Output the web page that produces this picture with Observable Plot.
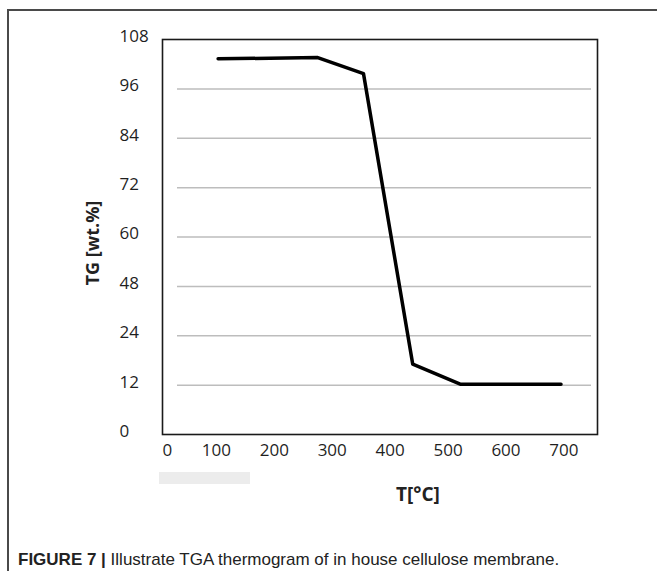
<!DOCTYPE html>
<html><head><meta charset="utf-8">
<script src="https://cdn.jsdelivr.net/npm/d3@7"></script>
<script src="https://cdn.jsdelivr.net/npm/@observablehq/plot@0.6"></script>
<style>
body{margin:0;background:#fff;}
#wrap{position:relative;width:657px;height:571px;overflow:hidden;background:#fff;font-family:"Open Sans",sans-serif;}
#border{position:absolute;left:7px;top:9px;width:800px;height:800px;border-left:2px solid #4a4a4a;border-top:2px solid #4a4a4a;}
#chart{position:absolute;left:0;top:0;}
#chart svg text{font-family:"Open Sans",sans-serif !important;font-size:17px !important;fill:#1f1f1f;}
#ylabel{position:absolute;left:-8px;top:231px;width:200px;line-height:24px;text-align:center;transform:rotate(-90deg);font-weight:bold;font-size:18px;color:#222;}
#xlabel{position:absolute;left:318px;top:482px;width:200px;line-height:24px;text-align:center;font-weight:bold;font-size:19px;color:#222;}
#patch{position:absolute;left:159px;top:472px;width:91px;height:12px;background:#ececec;}
#caption{position:absolute;left:18px;top:549px;white-space:nowrap;line-height:22px;font-family:"Liberation Sans Narrow","Liberation Sans",sans-serif;font-size:17px;color:#222;}
</style></head>
<body>
<div id="wrap">
  <div id="border"></div>
  <div id="chart"></div>
  <div id="ylabel">TG [wt.%]</div>
  <div id="xlabel">T[°C]</div>
  <div id="patch"></div>
  <div id="caption"><b>FIGURE 7 |</b> Illustrate TGA thermogram of in house cellulose membrane.</div>
</div>
<script>
const temperature = [103, 275, 354, 439, 522, 695];
const weight = [103.3, 103.6, 99.7, 17.1, 12.2, 12.2];
const xTicks = [0, 100, 200, 300, 400, 500, 600, 700];
const yLabels = [0, 12, 24, 48, 60, 72, 84, 96, 108];

const points = temperature.map((t, i) => ({t, w: weight[i]}));
const W = 657, H = 505, plotTop = 39, plotBottom = 434, plotLeft = 162, plotRight = 597;
const yRange = yLabels.map((_, i) => plotBottom - i * (plotBottom - plotTop) / (yLabels.length - 1));

const chart = Plot.plot({
  width: W, height: H,
  marginLeft: plotLeft, marginRight: W - plotRight, marginTop: plotTop, marginBottom: H - plotBottom,
  x: {type: "linear", domain: [7, 758]},
  y: {type: "linear", domain: yLabels, range: yRange},
  style: {fontFamily: "Open Sans", fontSize: "17px", color: "#1f1f1f", background: "transparent"},
  marks: [
    Plot.gridY(yLabels.slice(1, -1), {stroke: "#bdbdbd", strokeOpacity: 1, strokeWidth: 1.5, insetLeft: 15, insetRight: 6}),
    Plot.frame({stroke: "#1a1a1a", strokeWidth: 1.6}),
    Plot.axisY(yLabels, {tickSize: 0, textAnchor: "start", dx: -34, dy: -3, fontSize: 17, tickFormat: d => String(d), label: null}),
    Plot.axisX(xTicks.slice(1), {tickSize: 0, tickPadding: 9, fontSize: 17, label: null}),
    Plot.axisX(xTicks.slice(0, 1), {tickSize: 0, tickPadding: 9, fontSize: 17, dx: 9, label: null}),
    Plot.line(points, {x: "t", y: "w", stroke: "#000", strokeWidth: 3.5})
  ]
});
document.getElementById("chart").appendChild(chart);
</script>
</body></html>
